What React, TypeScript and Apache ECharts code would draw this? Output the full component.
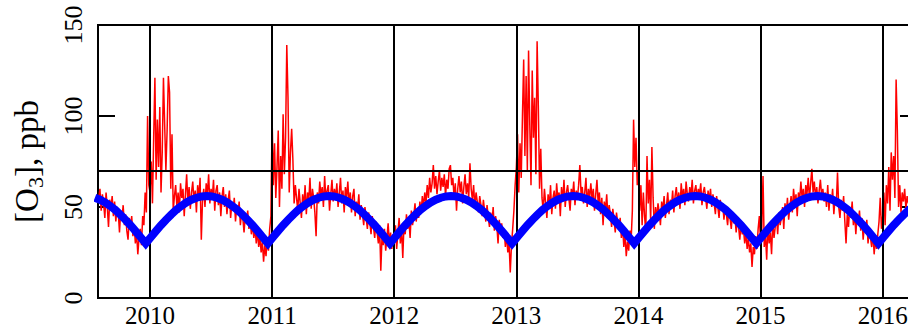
import { useEffect, useRef } from "react";
import * as echarts from "echarts";

// ---- axis / reference values ----
const yearTicks = [2010, 2011, 2012, 2013, 2014, 2015, 2016];
const yMin = 0;
const yMax = 150;
const yStep = 50;
const threshold = 70;
const xMin = 2009.574;
const xMax = 2016.281;

// ---- daily-ish ozone observations (ppb), sampled every 0.01 year ----
const sampleStep = 0.01;
const o3y2009 = [55, 60, 48, 57, 52, 44, 58, 50, 39, 54, 49, 56, 45, 53, 42, 50, 47, 36, 48, 43, 51, 40, 46, 37, 32, 44, 38, 45, 34, 40, 30, 36, 24, 33, 38, 29, 45, 40, 58, 47, 100, 62];
const o3y2010 = [58, 75, 52, 88, 121, 65, 98, 72, 105, 58, 80, 121, 95, 70, 92, 122, 113, 60, 90, 48,
  56, 62, 50, 58, 47, 63, 55, 60, 45, 57, 68, 52, 61, 49, 58, 64, 53, 59, 47, 62,
  55, 66, 32, 54, 60, 50, 63, 57, 68, 52, 60, 55, 65, 48, 59, 62, 51, 58, 45, 56,
  61, 50, 57, 46, 54, 59, 44, 52, 48, 55, 42, 50, 46, 53, 40, 47, 44, 36, 45, 41,
  48, 38, 43, 35, 41, 33, 39, 30, 37, 28, 34, 25, 31, 20, 29, 23, 33, 26, 38, 45];
const o3y2011 = [98, 62, 85, 55, 72, 92, 50, 78, 60, 101, 68, 88, 139, 110, 58, 80, 93, 76, 52, 62,
  55, 48, 60, 52, 44, 57, 50, 62, 46, 58, 53, 66, 49, 60, 55, 47, 34, 58, 52, 64,
  56, 61, 50, 67, 54, 59, 62, 48, 57, 65, 53, 60, 55, 63, 50, 58, 66, 52, 59, 47,
  61, 55, 64, 51, 58, 47, 56, 60, 45, 53, 49, 57, 43, 51, 46, 40, 50, 44, 38, 47,
  42, 35, 45, 39, 33, 42, 36, 30, 40, 15, 34, 29, 38, 26, 33, 41, 30, 36, 27, 35];
const o3y2012 = [32, 40, 27, 36, 44, 30, 38, 22, 41, 35, 46, 38, 43, 33, 48, 40, 45, 52, 42, 49,
  44, 53, 47, 56, 50, 58, 52, 62, 55, 66, 58, 63, 73, 60, 67, 57, 64, 70, 59, 66,
  61, 68, 56, 65, 60, 71, 73, 62, 66, 55, 63, 48, 60, 67, 58, 64, 52, 61, 68, 57,
  63, 55, 74, 60, 54, 62, 50, 58, 53, 47, 56, 51, 45, 54, 48, 42, 51, 44, 39, 47,
  41, 50, 37, 45, 40, 30, 43, 36, 41, 33, 38, 28, 35, 25, 31, 14, 29, 38, 48, 62];
const o3y2013 = [72, 90, 58, 85, 66, 100, 131, 78, 122, 70, 136, 95, 62, 125, 88, 110, 68, 141, 105, 60, 82, 55,
  48, 60, 52, 44, 57, 50, 62, 46, 55, 59, 49, 63, 54, 58, 45, 61, 53, 65, 50, 58, 62, 55, 48, 60, 56, 64, 51, 59, 55, 62, 73, 57, 61, 52, 58, 66, 50, 60, 55,
  63, 54, 60, 48, 57, 65, 52, 58, 46, 55, 40, 53, 48, 57, 44, 51, 46, 39, 49, 43, 36, 47, 41, 38, 44, 33, 40, 28, 35, 23, 31, 26, 37, 32, 48, 98, 72, 88, 62];
const o3y2014 = [70, 48, 62, 40, 58, 45, 36, 78, 52, 65, 42, 83, 55, 38, 50,
  44, 52, 47, 40, 53, 48, 56, 44, 51, 58, 46, 54, 50, 59, 47, 56, 61, 52, 58, 49,
  63, 55, 60, 51, 64, 57, 53, 61, 56, 65, 52, 59, 62, 54, 60, 57, 63, 51, 58, 61,
  55, 49, 59, 53, 60, 50, 57, 52, 46, 56, 50, 44, 54, 48, 52, 43, 50, 46, 40, 49,
  44, 38, 47, 41, 45, 36, 43, 39, 32, 41, 35, 38, 30, 36, 27, 33, 25, 30, 17, 28, 24, 34, 27, 38, 45];
const o3y2015 = [30, 38, 67, 28, 35, 21, 40, 30, 36, 24, 42, 33, 39, 45, 35, 47, 40, 44, 50, 38,
  52, 46, 55, 43, 50, 56, 47, 60, 52, 57, 45, 58, 53, 64, 55, 60, 50, 62, 57, 66,
  54, 63, 71, 58, 64, 55, 61, 52, 59, 65, 56, 60, 53, 58, 50, 62, 48, 57, 52, 60,
  46, 55, 51, 69, 50, 44, 54, 48, 56, 42, 30, 46, 39, 50, 44, 53, 40, 47, 35, 45,
  41, 48, 37, 44, 32, 40, 36, 43, 30, 38, 33, 28, 36, 24, 32, 27, 35, 42, 55, 38];
const o3y2016 = [45, 58, 40, 62, 52, 72, 48, 80, 65, 78, 55, 120, 92, 50, 62, 47, 58, 53, 60, 49, 56, 52, 59, 48, 57, 54, 60, 50, 58];

const o3Blocks = [
  { year: 2009, first: 58, values: o3y2009 },
  { year: 2010, first: 0, values: o3y2010 },
  { year: 2011, first: 0, values: o3y2011 },
  { year: 2012, first: 0, values: o3y2012 },
  { year: 2013, first: 0, values: o3y2013 },
  { year: 2014, first: 0, values: o3y2014 },
  { year: 2015, first: 0, values: o3y2015 },
  { year: 2016, first: 0, values: o3y2016 },
];

// ---- fitted seasonal curve (ppb), sampled every 1/24 year ----
const fitStart = 2009.5483;
const fitStep = 1 / 24;
const fit2009 = [55.1, 54.0, 52.5, 50.6, 48.4, 45.8, 43.0, 40.0, 36.7, 33.4];
const fit2010 = [30, 33.4, 36.7, 40.0, 43.0, 45.8, 48.4, 50.6, 52.5, 54.0, 55.1, 55.8, 56, 55.8, 55.1, 54.0, 52.5, 50.6, 48.4, 45.8, 43.0, 40.0, 36.7, 33.4];
const fit2011 = [30, 33.4, 36.7, 40.0, 43.0, 45.8, 48.4, 50.6, 52.5, 54.0, 55.1, 55.8, 56, 55.8, 55.1, 54.0, 52.5, 50.6, 48.4, 45.8, 43.0, 40.0, 36.7, 33.4];
const fit2012 = [30, 33.4, 36.7, 40.0, 43.0, 45.8, 48.4, 50.6, 52.5, 54.0, 55.1, 55.8, 56, 55.8, 55.1, 54.0, 52.5, 50.6, 48.4, 45.8, 43.0, 40.0, 36.7, 33.4];
const fit2013 = [30, 33.4, 36.7, 40.0, 43.0, 45.8, 48.4, 50.6, 52.5, 54.0, 55.1, 55.8, 56, 55.8, 55.1, 54.0, 52.5, 50.6, 48.4, 45.8, 43.0, 40.0, 36.7, 33.4];
const fit2014 = [30, 33.4, 36.7, 40.0, 43.0, 45.8, 48.4, 50.6, 52.5, 54.0, 55.1, 55.8, 56, 55.8, 55.1, 54.0, 52.5, 50.6, 48.4, 45.8, 43.0, 40.0, 36.7, 33.4];
const fit2015 = [30, 33.4, 36.7, 40.0, 43.0, 45.8, 48.4, 50.6, 52.5, 54.0, 55.1, 55.8, 56, 55.8, 55.1, 54.0, 52.5, 50.6, 48.4, 45.8, 43.0, 40.0, 36.7, 33.4];
const fit2016 = [30, 33.4, 36.7, 40.0, 43.0, 45.8, 48.4, 50.6, 52.5];
const fitValues = [...fit2009, ...fit2010, ...fit2011, ...fit2012, ...fit2013, ...fit2014, ...fit2015, ...fit2016];

const SERIF = "'Liberation Serif', 'Times New Roman', serif";

export default function App() {
  const ref = useRef<HTMLDivElement>(null);

  useEffect(() => {
    if (!ref.current) return;
    document.documentElement.style.overflow = "hidden";
    document.body.style.overflow = "hidden";
    const chart = echarts.init(ref.current, undefined, { renderer: "svg" });

    const o3Data: number[][] = [];
    o3Blocks.forEach((b) => {
      b.values.forEach((v, j) => {
        o3Data.push([b.year + (b.first + j) * sampleStep, v]);
      });
    });
    const fitData = fitValues.map((v, k) => [fitStart + k * fitStep, v]);

    const yAxisCommon = {
      type: "value",
      min: yMin,
      max: yMax,
      interval: yStep,
      axisLine: { show: true, onZero: false, lineStyle: { color: "#000", width: 2 } },
      axisTick: { show: true, inside: true, length: 17, lineStyle: { color: "#000", width: 2 } },
      splitLine: { show: false },
    };

    chart.setOption({
      animation: false,
      backgroundColor: "#fff",
      grid: {
        left: 98,
        top: 25,
        right: 3,
        bottom: 31,
        show: true,
        borderColor: "#000",
        borderWidth: 2,
        backgroundColor: "transparent",
      },
      xAxis: {
        type: "value",
        min: xMin,
        max: xMax,
        axisLine: { show: true, onZero: false, lineStyle: { color: "#000", width: 2 } },
        axisTick: { show: false },
        splitLine: { show: false },
        axisLabel: {
          customValues: yearTicks,
          formatter: (v: number) => String(Math.round(v)),
          color: "#000",
          fontFamily: SERIF,
          fontSize: 25,
          margin: 5,
        },
      },
      yAxis: [
        {
          ...yAxisCommon,
          position: "left",
          axisLabel: {
            rotate: 90,
            color: "#000",
            fontFamily: SERIF,
            fontSize: 26,
            margin: 12,
          },
          name: "[O{sub|3}], ppb",
          nameLocation: "middle",
          nameRotate: 90,
          nameGap: 52,
          nameTextStyle: {
            color: "#000",
            fontFamily: SERIF,
            fontSize: 33,
            rich: {
              sub: {
                color: "#000",
                fontFamily: SERIF,
                fontSize: 22,
                padding: [16, 0, 0, 0],
              },
            },
          },
        },
        {
          ...yAxisCommon,
          position: "right",
          axisLabel: { show: false },
        },
      ],
      series: [
        {
          type: "line",
          name: "O3",
          data: o3Data,
          symbol: "none",
          showSymbol: false,
          lineStyle: { color: "#ff0000", width: 1.5 },
          z: 2,
          markLine: {
            silent: true,
            z: 3,
            symbol: ["none", "none"],
            label: { show: false },
            lineStyle: { color: "#000", width: 2, type: "solid" },
            emphasis: { disabled: true },
            data: [...yearTicks.map((y) => ({ xAxis: y })), { yAxis: threshold }],
          },
        },
        {
          type: "line",
          name: "fit",
          data: fitData,
          symbol: "none",
          showSymbol: false,
          lineStyle: { color: "#0000ff", width: 8, join: "miter" },
          z: 4,
        },
      ],
    });

    return () => chart.dispose();
  }, []);

  return (
    <div
      ref={ref}
      style={{ position: "fixed", left: 0, top: 0, width: 920, height: 329 }}
    />
  );
}
